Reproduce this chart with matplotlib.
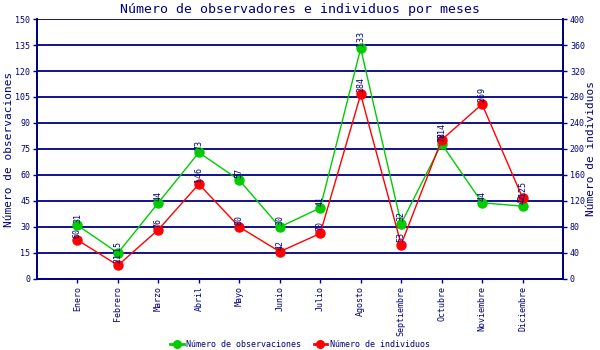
import matplotlib.pyplot as plt
import numpy as np

meses = ['Enero', 'Febrero', 'Marzo', 'Abril', 'Mayo', 'Junio', 'Julio',
         'Agosto', 'Septiembre', 'Octubre', 'Noviembre', 'Diciembre']
observaciones = [31, 15, 44, 73, 57, 30, 41, 133, 32, 78, 44, 42]
individuos = [60, 21, 76, 146, 80, 42, 70, 284, 53, 214, 269, 125]

navy = '#000080'
verde = '#00cc00'
rojo = '#ff0000'
plt.rcParams['font.family'] = 'DejaVu Sans Mono'

fig = plt.figure(figsize=(6, 3.5), dpi=100)
ax = fig.add_axes([0.0617, 0.2029, 0.8766, 0.7428])
ax2 = ax.twinx()

x = np.arange(1, len(meses) + 1)

ax.set_ylim(0, 150)
ax.set_yticks(np.arange(0, 151, 15))
ax2.set_ylim(0, 400)
ax2.set_yticks(np.arange(0, 401, 40))
ax.set_xlim(0, 13)
ax.set_xticks(x)
ax.set_xticklabels(meses, rotation=90, fontsize=6, color=navy)

ax.grid(axis='y', color=navy, linewidth=1.3)
ax.set_axisbelow(True)

for a in (ax, ax2):
    for s in a.spines.values():
        s.set_color(navy)
        s.set_linewidth(1.3)
    a.spines['top'].set_visible(False)
    a.tick_params(colors=navy, labelsize=6, length=3, width=1, pad=2)

ax.plot(x, observaciones, color=verde, lw=1, marker='o', ms=6.5, zorder=3)
ax2.plot(x, individuos, color=rojo, lw=1, marker='o', ms=6.5, zorder=3)

# etiquetas de valor verticales sobre cada punto (en ax2 para quedar encima)
for xi, v in zip(x, observaciones):
    ax2.annotate(str(v), (xi, v), xycoords=ax.transData, xytext=(0, 1.5),
                 textcoords='offset points', rotation=90, ha='center',
                 va='bottom', fontsize=6, color=navy, zorder=5)
for xi, v in zip(x, individuos):
    ax2.annotate(str(v), (xi, v), xytext=(0, 1.5), textcoords='offset points',
                 rotation=90, ha='center', va='bottom', fontsize=6, color=navy,
                 zorder=5)

ax.set_ylabel('Número de observaciones', color=navy, fontsize=8, labelpad=1)
ax2.set_ylabel('Número de individuos', color=navy, fontsize=8, labelpad=1)
fig.text(0.5, 0.972, 'Número de observadores e individuos por meses',
         ha='center', va='center', color=navy, fontsize=9.5)

h1 = plt.Line2D([], [], color=verde, lw=2, marker='o', ms=5.5)
h2 = plt.Line2D([], [], color=rojo, lw=2, marker='o', ms=5.5)
leg = fig.legend([h1, h2], ['Número de observaciones', 'Número de individuos'],
                 loc='center', bbox_to_anchor=(0.5, 0.015), ncol=2, frameon=False,
                 fontsize=6, handlelength=1.6, handletextpad=0.3, columnspacing=1.5)
for t in leg.get_texts():
    t.set_color(navy)

fig.savefig('out.png', dpi=100)
